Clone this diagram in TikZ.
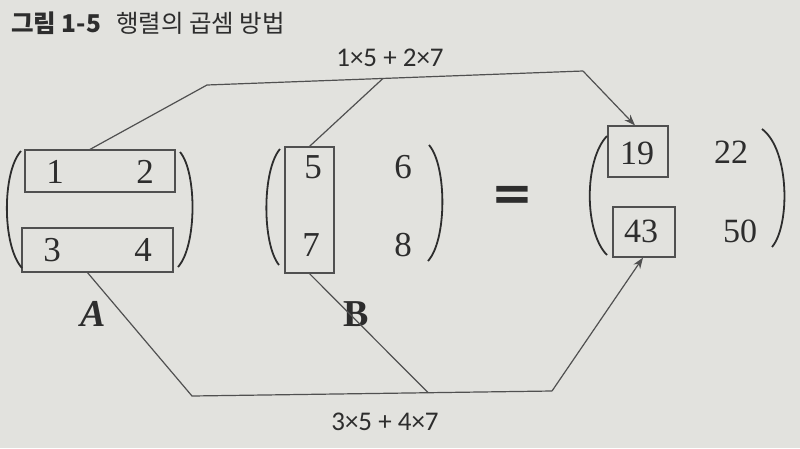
\documentclass[tikz,border=0pt]{standalone}
\usepackage{fontspec}
\newfontfamily\kr{Noto Sans CJK KR}
\newfontfamily\lab{Carlito}
\newfontfamily\numf{Liberation Serif}
\newfontfamily\eqf{DejaVu Sans}
\usetikzlibrary{calc,arrows.meta}
\definecolor{bgc}{RGB}{226,226,222}
\definecolor{ink}{RGB}{45,45,45}
\definecolor{lin}{RGB}{80,80,80}
\tikzset{
  num/.style={font=\numf\fontsize{35}{40}\selectfont, text=ink, inner sep=0pt},
  bignum/.style={font=\numf\fontsize{34}{38}\selectfont, text=ink, inner sep=0pt},
  boxx/.style={draw=lin, line width=1.2pt, inner sep=0pt},
  conn/.style={draw=lin, line width=1.2pt},
  par/.style={draw=ink, line width=1.8pt},
  mlabel/.style={font=\lab\fontsize{27}{30}\selectfont, text=ink, inner sep=0pt},
  mname/.style={font=\numf\fontsize{38}{40}\selectfont\bfseries, text=ink, inner sep=0pt},
  arr/.style={-{Stealth[length=11pt,width=8pt]}}
}
\begin{document}
\begin{tikzpicture}[x=1pt,y=-1pt]
\fill[bgc] (0,0) rectangle (800,448);
\useasboundingbox (0,0) rectangle (800,448);
% title
\node[anchor=west, text=ink, inner sep=0pt, font=\kr\fontsize{24.5}{27}\selectfont] (title) at (11,23) {{\bfseries 그림 1-5}\hspace{15pt}행렬의 곱셈 방법};
% matrix A
\node[boxx, minimum width=150pt, minimum height=42pt] (rA1) at (100,171) {};
\node[boxx, minimum width=151pt, minimum height=44pt] (rA2) at (97.5,250) {};
\node[num] (a11) at (55,172) {1};
\node[num] (a12) at (145,172) {2};
\node[num] (a21) at (52,250) {3};
\node[num] (a22) at (143,250) {4};
\draw[par] (21,151) .. controls (2,172) and (2,246) .. (22,268);
\draw[par] (180,152) .. controls (197,172) and (197,246) .. (178,267);
\node[mname, font=\numf\fontsize{38}{40}\selectfont\bfseries\itshape] (nA) at (93,314) {A};
% matrix B
\node[boxx, minimum width=49pt, minimum height=126pt] (cB) at (309.5,210) {};
\node[num] (b11) at (313,167) {5};
\node[num] (b12) at (403,167) {6};
\node[num] (b21) at (311,245) {7};
\node[num] (b22) at (403,245) {8};
\draw[par] (280,149) .. controls (262,170) and (262,244) .. (279,265);
\draw[par] (429,145) .. controls (447,166) and (447,240) .. (428,261);
\node[mname] (nB) at (356,314) {B};
% equals
\node[text=ink, inner sep=0pt, font=\eqf\fontsize{50}{54}\selectfont\bfseries] (eq) at (512,198) {=};
% result
\node[boxx, minimum width=60pt, minimum height=51pt] (c19) at (638,151.5) {};
\node[boxx, minimum width=62pt, minimum height=50pt] (c43) at (644,232) {};
\node[bignum] (v19) at (637,153) {19};
\node[bignum] (v22) at (731,152) {22};
\node[bignum] (v43) at (641,231) {43};
\node[bignum] (v50) at (740,231) {50};
\draw[par] (607,136) .. controls (584,160) and (584,232) .. (607,255);
\draw[par] (762,129) .. controls (790,150) and (790,226) .. (772,247);
% top connector
\coordinate (tl) at (207,85);
\coordinate (tr) at (583,71);
\draw[conn] ([xshift=-10pt]rA1.north) -- (tl) -- (tr);
\draw[conn,arr] (tr) -- ([xshift=-3pt]c19.north);
\draw[conn] (cB.north) -- ($(tl)!0.468!(tr)$);
\node[mlabel] (l1) at (390,58) {1×5 + 2×7};
% bottom connector
\coordinate (bl) at (192,396);
\coordinate (br) at (552,391);
\draw[conn] ([xshift=-10pt]rA2.south) -- (bl) -- (br);
\draw[conn,arr] (br) -- ([xshift=-1pt]c43.south);
\draw[conn] (cB.south) -- ($(bl)!0.656!(br)$);
\node[mlabel] (l2) at (385,422) {3×5 + 4×7};
\end{tikzpicture}
\end{document}
